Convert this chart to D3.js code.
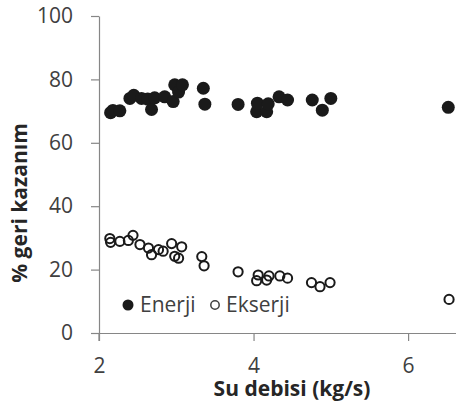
<!DOCTYPE html>
<html>
<head>
<meta charset="utf-8">
<script src="https://cdn.jsdelivr.net/npm/d3@7"></script>
<style>
  body { margin: 0; background: #fff; }
  svg { display: block; font-family: "Open Sans", sans-serif; }
</style>
</head>
<body>
<div id="chart"></div>
<script>
// Enerji (filled) points
const enerjiX = [2.15, 2.18, 2.27, 2.40, 2.45, 2.55, 2.63, 2.68, 2.72, 2.85, 2.96, 2.98, 3.03, 3.08,
  3.35, 3.37, 3.80, 4.04, 4.05, 4.17, 4.19, 4.33, 4.44, 4.76, 4.89, 5.00, 6.52];
const enerjiY = [69.5, 70.2, 70.1, 74.0, 75.0, 74.0, 73.8, 70.5, 74.2, 74.5, 73.0, 78.3, 76.0, 78.3,
  77.2, 72.2, 72.1, 69.8, 72.5, 69.8, 72.3, 74.5, 73.5, 73.5, 70.3, 74.0, 71.2];

// Ekserji (open) points
const ekserjiX = [2.14, 2.15, 2.27, 2.38, 2.44, 2.53, 2.64, 2.68, 2.77, 2.83, 2.94, 2.98, 3.03, 3.07,
  3.33, 3.36, 3.80, 4.04, 4.06, 4.17, 4.20, 4.34, 4.44, 4.75, 4.86, 4.99, 6.53];
const ekserjiY = [29.8, 28.6, 28.9, 29.2, 30.8, 27.9, 26.8, 24.7, 26.3, 25.8, 28.2, 24.2, 23.6, 27.2,
  24.1, 21.2, 19.3, 16.5, 18.3, 16.7, 18.0, 18.0, 17.3, 15.9, 14.6, 15.9, 10.6];

const xTicks = [2, 4, 6];
const yTicks = [0, 20, 40, 60, 80, 100];

const width = 456, height = 403;
const svg = d3.select("#chart").append("svg")
  .attr("width", width)
  .attr("height", height);

const x = d3.scaleLinear().domain([2, 6.62]).range([99, 456]);
const y = d3.scaleLinear().domain([0, 100]).range([333, 16]);

// axes
const xAxis = svg.append("g")
  .attr("transform", "translate(0,333)")
  .call(d3.axisBottom(x).tickValues(xTicks).tickFormat(d3.format("d"))
    .tickSize(8).tickPadding(17).tickSizeOuter(0));
const yAxis = svg.append("g")
  .attr("transform", "translate(99,0)")
  .call(d3.axisLeft(y).tickValues(yTicks).tickFormat(d3.format("d"))
    .tickSize(8).tickPadding(18).tickSizeOuter(0));

[xAxis, yAxis].forEach(g => {
  g.select(".domain").attr("stroke", "#868686").attr("stroke-width", 1.2);
  g.selectAll(".tick line").attr("stroke", "#868686").attr("stroke-width", 1.2);
  g.selectAll(".tick text")
    .attr("fill", "#404040")
    .style("font-size", "21px")
    .style("font-family", "Open Sans, sans-serif");
});
// y axis line runs a little below the x axis
svg.append("line")
  .attr("x1", 99).attr("x2", 99)
  .attr("y1", 333).attr("y2", 341)
  .attr("stroke", "#868686").attr("stroke-width", 1.2);

// points
const enerji = enerjiX.map((d, i) => ({ x: d, y: enerjiY[i] }));
const ekserji = ekserjiX.map((d, i) => ({ x: d, y: ekserjiY[i] }));

svg.append("g").selectAll("circle")
  .data(enerji)
  .enter()
  .append("circle")
  .attr("cx", d => x(d.x))
  .attr("cy", d => y(d.y))
  .attr("r", 6.5)
  .attr("fill", "#1a1a1a");

svg.append("g").selectAll("circle")
  .data(ekserji)
  .enter()
  .append("circle")
  .attr("cx", d => x(d.x))
  .attr("cy", d => y(d.y))
  .attr("r", 4.6)
  .attr("fill", "none")
  .attr("stroke", "#1a1a1a")
  .attr("stroke-width", 2);

// legend
const legend = svg.append("g");
legend.append("circle").attr("cx", 128).attr("cy", 305).attr("r", 5.5).attr("fill", "#1a1a1a");
legend.append("text").attr("x", 140).attr("y", 312).text("Enerji")
  .attr("fill", "#404040").style("font-size", "21px");
legend.append("circle").attr("cx", 215).attr("cy", 305).attr("r", 4.2)
  .attr("fill", "none").attr("stroke", "#404040").attr("stroke-width", 1.5);
legend.append("text").attr("x", 226).attr("y", 312).text("Ekserji")
  .attr("fill", "#404040").style("font-size", "21px");

// axis titles
svg.append("text")
  .attr("x", 292).attr("y", 396)
  .attr("text-anchor", "middle")
  .style("font-size", "21px").style("font-weight", "bold")
  .attr("fill", "#262626")
  .text("Su debisi (kg/s)");

svg.append("text")
  .attr("transform", "translate(27,203) rotate(-90)")
  .attr("text-anchor", "middle")
  .style("font-size", "21px").style("font-weight", "bold")
  .attr("fill", "#262626")
  .text("% geri kazanım");
</script>
</body>
</html>
